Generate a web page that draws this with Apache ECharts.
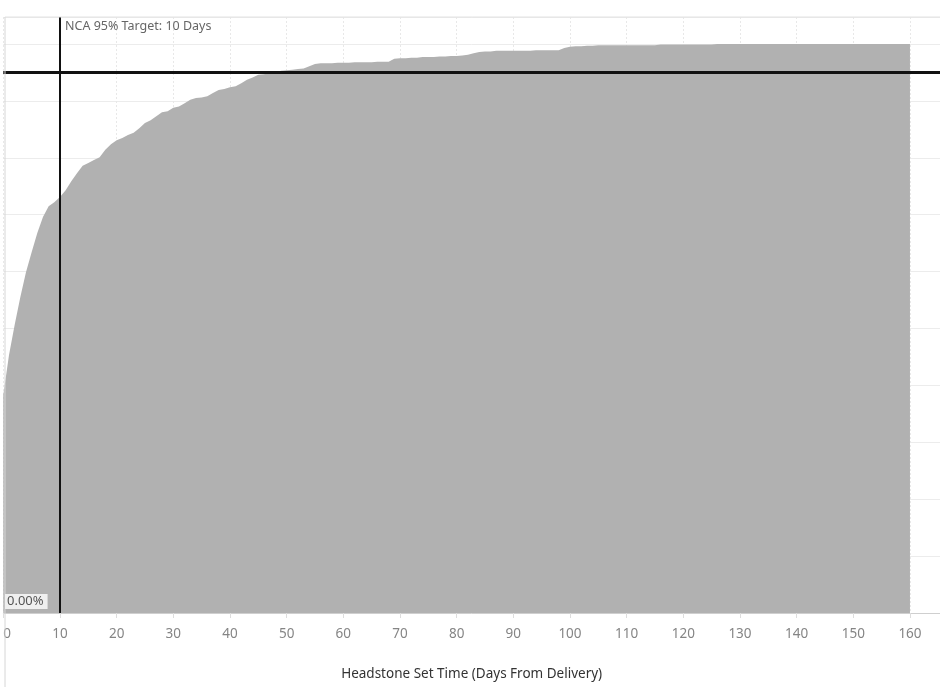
<!DOCTYPE html>
<html>
<head>
<meta charset="utf-8">
<script src="https://cdn.jsdelivr.net/npm/echarts@6/dist/echarts.min.js"></script>
<style>
html,body{margin:0;padding:0;background:#fff;}
#chart{width:940px;height:687px;}
</style>
</head>
<body>
<div id="chart"></div>
<script>
// Cumulative % of headstones set, by day 0..160
const cumPct = [
  38.3,45.3,50.6,55.5,59.9,63.4,66.8,69.6,71.5,72.2,73.1,
  74.3,75.9,77.3,78.6,79.1,79.6,80.1,81.4,82.4,83.1,
  83.5,84.0,84.4,85.2,86.1,86.6,87.3,88.0,88.2,88.8,
  89.0,89.6,90.2,90.5,90.6,90.8,91.4,91.9,92.1,92.4,
  92.6,93.1,93.7,94.1,94.6,94.7,94.9,95.0,95.3,95.4,
  95.5,95.6,95.7,96.1,96.5,96.6,96.6,96.6,96.7,96.7,
  96.7,96.8,96.8,96.8,96.8,96.9,96.9,96.9,97.4,97.5,
  97.5,97.6,97.6,97.7,97.7,97.7,97.8,97.8,97.9,97.9,
  98.0,98.1,98.4,98.6,98.7,98.7,98.8,98.8,98.8,98.8,
  98.8,98.8,98.8,98.9,98.9,98.9,98.9,98.9,99.3,99.5,
  99.6,99.6,99.7,99.7,99.8,99.8,99.8,99.8,99.8,99.8,
  99.8,99.8,99.8,99.8,99.8,99.9,99.9,99.9,99.9,99.9,
  99.9,99.9,99.9,99.9,99.9,100,100,100,100,100,
  100,100,100,100,100,100,100,100,100,100,
  100,100,100,100,100,100,100,100,100,100,
  100,100,100,100,100,100,100,100,100,100
];
const targetDays = 10;
const targetPct = 95;
const targetLabel = 'NCA 95% Target: 10 Days';
const xAxisTitle = 'Headstone Set Time (Days From Delivery)';
const zeroLabel = '0.00%';

const font = '"Noto Sans", "Open Sans", sans-serif';
const chart = echarts.init(document.getElementById('chart'), null, {renderer: 'canvas'});

chart.setOption({
  animation: false,
  backgroundColor: '#ffffff',
  grid: {left: 3.3, top: 17, right: 0, bottom: 74, containLabel: false},
  xAxis: {
    type: 'value',
    min: 0, max: 165.3, interval: 10,
    name: xAxisTitle,
    nameLocation: 'middle',
    nameGap: 54,
    nameTextStyle: {color: '#333', fontSize: 13.5, fontFamily: font},
    axisLine: {show: true, lineStyle: {color: '#cfcfcf', width: 1}},
    axisTick: {show: true, length: 5, lineStyle: {color: '#dddddd'}},
    axisLabel: {
      color: '#858585', fontSize: 13.5, fontFamily: font, margin: 14,
      showMaxLabel: false, alignMinLabel: 'left',
      formatter: v => (v % 10 === 0 ? String(v) : '')
    },
    splitLine: {show: true, lineStyle: {color: '#e8e8e8', type: [2, 2], width: 1}}
  },
  yAxis: {
    type: 'value',
    min: 0, max: 104.75, interval: 10,
    axisLine: {show: false},
    axisTick: {show: false},
    axisLabel: {show: false},
    splitLine: {show: true, lineStyle: {color: '#ececec', width: 1}}
  },
  series: [{
    type: 'line',
    data: cumPct.map((v, i) => [i, v]),
    showSymbol: false,
    symbol: 'none',
    lineStyle: {width: 0},
    itemStyle: {color: '#b1b1b1'},
    areaStyle: {color: '#b1b1b1', opacity: 1},
    z: 2,
    markLine: {
      silent: true,
      symbol: ['none', 'none'],
      label: {show: false},
      data: [
        {xAxis: targetDays, lineStyle: {color: '#111', width: 2, type: 'solid'}},
        {yAxis: targetPct, lineStyle: {color: '#111', width: 3, type: 'solid'}}
      ]
    }
  }],
  graphic: [
    {type: 'line', shape: {x1: 5, y1: 17, x2: 5, y2: 687}, style: {stroke: '#d6d6d6', lineWidth: 1}, z: 100},
    {type: 'line', shape: {x1: 5, y1: 17, x2: 940, y2: 17}, style: {stroke: '#e2e2e2', lineWidth: 1}, z: 100},
    {type: 'text', left: 65, top: 20, z: 100,
     style: {text: targetLabel, fill: '#666', font: '12.5px ' + font}},
    {type: 'text', left: 5, top: 594, z: 100,
     style: {text: zeroLabel, fill: '#555', font: '13px ' + font,
             backgroundColor: '#efefef', padding: [1, 4, 1, 2]}}
  ]
});
</script>
</body>
</html>
